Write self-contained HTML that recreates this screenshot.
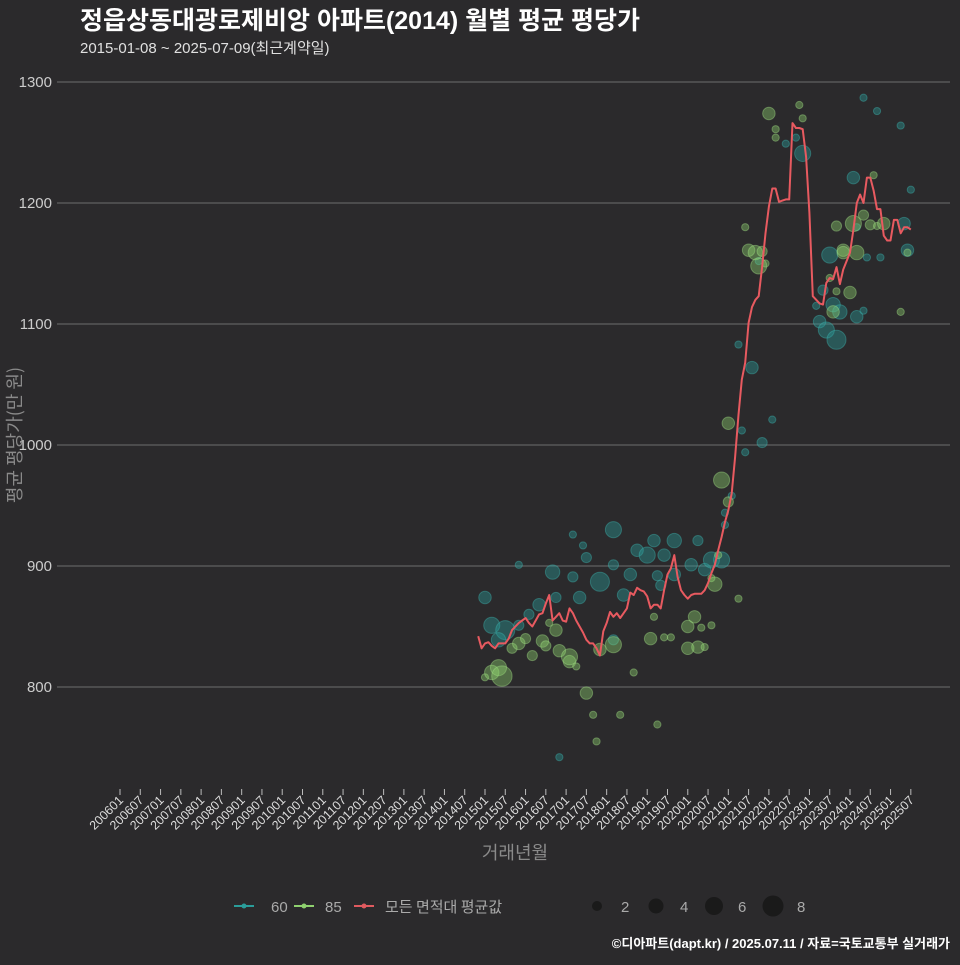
<!DOCTYPE html>
<html><head><meta charset="utf-8"><style>
html,body{margin:0;padding:0;background:#2b2a2c;}
svg text{font-family:"Liberation Sans","Noto Sans CJK KR",sans-serif;}
svg text.cjk{font-family:"Noto Sans CJK KR","Liberation Sans",sans-serif;}
</style></head><body>
<svg id="c" width="960" height="960" xmlns="http://www.w3.org/2000/svg">
<rect width="960" height="960" fill="#2b2a2c"/>
<text x="80" y="29" font-size="25" font-weight="bold" fill="#ffffff">정읍상동대광로제비앙 아파트(2014) 월별 평균 평당가</text>
<text x="80" y="53" font-size="15" fill="#e0e0e0">2015-01-08 ~ 2025-07-09(최근계약일)</text>
<g id="grid"></g><g id="bub"></g><g id="line"></g><g id="axes"></g>
<g transform="translate(21,435) rotate(-90)"><text class="cjk" x="0" y="0" text-anchor="middle" font-size="18" fill="#8a8a8a">평균 평당가(만 원)</text></g>
<text class="cjk" x="515" y="859" text-anchor="middle" font-size="18" fill="#8a8a8a">거래년월</text>
<g>
<line x1="234" y1="906" x2="254" y2="906" stroke="#2a9d9a" stroke-width="2"/><circle cx="244" cy="906" r="2.5" fill="#2a9d9a"/>
<text x="271" y="912" font-size="15" fill="#aaaaaa">60</text>
<line x1="294" y1="906" x2="314" y2="906" stroke="#8fd16f" stroke-width="2"/><circle cx="304" cy="906" r="2.5" fill="#8fd16f"/>
<text x="325" y="912" font-size="15" fill="#aaaaaa">85</text>
<line x1="354" y1="906" x2="374" y2="906" stroke="#e05a5f" stroke-width="2"/><circle cx="364" cy="906" r="2.5" fill="#e05a5f"/>
<text class="cjk" x="385" y="912" font-size="15" fill="#aaaaaa">모든 면적대 평균값</text>
<circle cx="597" cy="906" r="5" fill="#1a1a1a"/><text x="621" y="912" font-size="15" fill="#aaaaaa">2</text>
<circle cx="656" cy="906" r="7.5" fill="#1a1a1a"/><text x="680" y="912" font-size="15" fill="#aaaaaa">4</text>
<circle cx="714" cy="906" r="9" fill="#1a1a1a"/><text x="738" y="912" font-size="15" fill="#aaaaaa">6</text>
<circle cx="773" cy="906" r="10.5" fill="#1a1a1a"/><text x="797" y="912" font-size="15" fill="#aaaaaa">8</text>
</g>
<text x="950" y="948" text-anchor="end" font-size="13" font-weight="bold" fill="#ffffff">©디아파트(dapt.kr) / 2025.07.11 / 자료=국토교통부 실거래가</text>
</svg>
<script>
const yTicks=[800,900,1000,1100,1200,1300];
const lineStartMonth=106;
const avgValues=[842,832,836,837,834,832,836,836,836,840,847,850,853,855,857,853,850,855,860,861,869,876,855,858,861,855,854,865,861,855,850,845,839,836,836,832,826,846,853,862,858,861,857,861,865,878,876,882,880,879,875,865,868,868,865,880,893,898,909,891,880,876,873,876,877,877,877,880,886,894,901,913,924,936,946,960,990,1025,1054,1068,1101,1114,1120,1123,1147,1175,1197,1212,1212,1201,1202,1203,1203,1266,1262,1262,1261,1238,1192,1123,1120,1117,1116,1134,1138,1137,1147,1133,1145,1152,1159,1178,1200,1207,1200,1221,1221,1210,1195,1195,1173,1169,1169,1186,1186,1175,1180,1180,1178];
const t60Months=[108,110,114,112,118,121,118,124,129,128,134,136,137,134,138,142,146,146,149,146,151,153,156,160,158,161,159,164,164,169,171,173,175,178,179,179,185,181,183,187,190,189,193,197,200,202,210,208,211,206,207,209,213,212,218,217,218,221,224,225,231,232,233,234,220,184,130,220];
const t60Values=[874,851,847,839,851,860,901,868,874,895,891,874,917,926,907,887,901,930,876,839,893,913,909,884,921,909,892,893,921,901,921,897,905,905,934,944,994,958,1083,1064,1002,1152,1021,1249,1254,1241,1157,1128,1116,1115,1102,1095,1110,1087,1106,1221,1180,1155,1276,1155,1264,1183,1161,1211,1111,1012,742,1287];
const t60Counts=[3,5,7,4,2,2,1,3,2,4,2,3,1,1,2,7,2,5,3,2,3,3,5,2,3,3,2,3,4,3,2,3,5,5,1,1,1,1,1,3,2,1,1,1,1,5,5,2,4,1,3,5,4,7,3,3,1,1,1,1,1,3,3,1,1,1,1,1];
const t85Months=[108,110,112,113,116,118,120,122,125,126,127,129,130,133,133,135,138,140,141,148,142,146,152,159,157,158,161,163,168,168,170,171,172,175,173,175,176,177,178,180,180,183,185,186,188,189,190,191,192,194,194,201,202,210,211,212,212,214,214,216,217,218,220,222,223,224,226,231,233];
const t85Values=[808,812,816,809,832,836,840,826,838,834,853,847,830,821,825,817,795,777,755,777,831,835,812,769,840,858,841,841,850,832,858,833,849,851,833,890,885,909,971,953,1018,873,1180,1161,1159,1148,1160,1150,1274,1261,1254,1281,1270,1138,1110,1127,1181,1161,1159,1126,1183,1159,1190,1182,1223,1181,1183,1110,1159];
const t85Counts=[1,4,5,8,2,3,2,2,3,2,1,3,3,3,5,1,3,1,1,1,3,5,1,1,3,1,1,1,3,3,3,3,1,1,1,1,4,1,5,2,3,1,1,3,4,5,2,1,3,1,1,1,1,1,3,1,2,3,3,3,5,4,2,2,1,1,3,1,1];
const xTickLabels=[];for(let y=2006;y<=2025;y++){xTickLabels.push(y+'01');xTickLabels.push(y+'07');}

const NS='http://www.w3.org/2000/svg';
function xS(m){return 120+m*3.3796;}
function yS(v){return 687-(v-800)*1.21;}
function mk(tag,attrs,parent){const e=document.createElementNS(NS,tag);for(const k in attrs)e.setAttribute(k,attrs[k]);parent.appendChild(e);return e;}
const grid=document.getElementById('grid'),axes=document.getElementById('axes'),bub=document.getElementById('bub'),line=document.getElementById('line');
yTicks.forEach(v=>{
 const g=mk('line',{x1:57,x2:950,y1:yS(v),y2:yS(v),stroke:'#6e6e6e','stroke-width':1},grid);
 
 
 const t=mk('text',{x:52,y:yS(v)+5,'text-anchor':'end','font-size':15,fill:'#cccccc'},axes);
 t.textContent=v;
 
 
});
xTickLabels.forEach((lab,i)=>{
 const x=xS(i*6);
 const tk=mk('line',{x1:x,x2:x,y1:789,y2:795,stroke:'#bbbbbb','stroke-width':1},axes);
 
 
 const t=mk('text',{transform:`translate(${x+4},${801}) rotate(-45)`,'text-anchor':'end','font-size':12.5,fill:'#dddddd'},axes);
 t.textContent=lab;
 
 
});
function drawB(ms,vs,cs,fill,stroke,name){
 ms.forEach((m,i)=>{
  const c=mk('circle',{cx:xS(m),cy:yS(vs[i]),r:3.6*Math.sqrt(cs[i]),fill:fill,'fill-opacity':0.4,stroke:stroke,'stroke-opacity':0.4,'stroke-width':1},bub);
  
  
 });
}
drawB(t60Months,t60Values,t60Counts,'#2a9d9a','#3fb8b3','bubble-60');
drawB(t85Months,t85Values,t85Counts,'#8fd16f','#a8e58a','bubble-85');
const pts=avgValues.map((v,i)=>xS(lineStartMonth+i).toFixed(1)+','+yS(v).toFixed(1)).join(' ');
const pl=mk('polyline',{points:pts,fill:'none',stroke:'#e85a60','stroke-width':2,'stroke-linejoin':'round'},line);


</script>
</body></html>
